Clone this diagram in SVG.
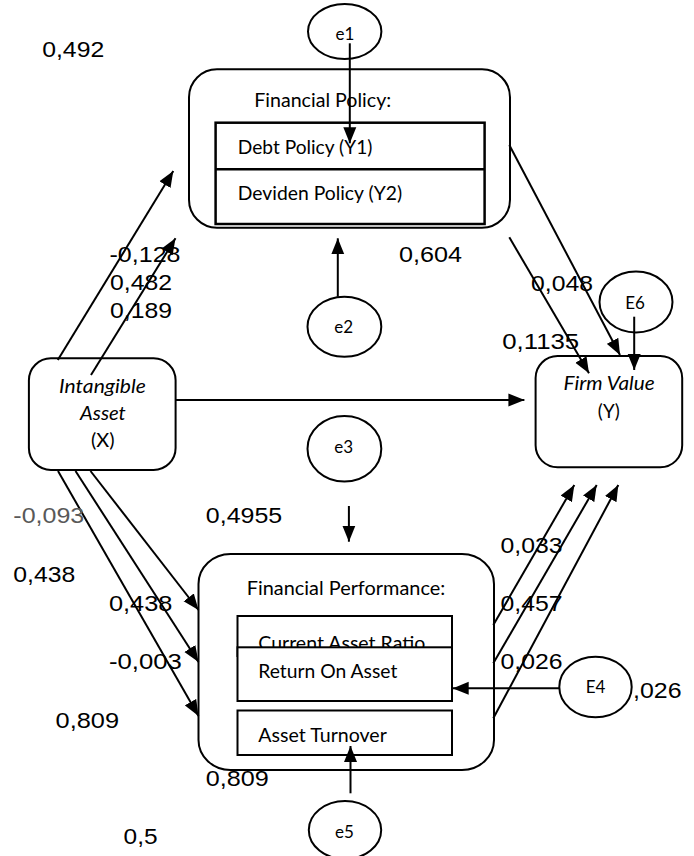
<svg xmlns="http://www.w3.org/2000/svg" width="694" height="856" viewBox="0 0 694 856">
<defs>
<marker id="ah" markerUnits="userSpaceOnUse" markerWidth="16" markerHeight="14" refX="16" refY="7" orient="auto">
<path d="M0,0.5 L16,7 L0,13.5 z" fill="#000"/>
</marker>
<style>
.box{fill:#fff;stroke:#000;stroke-width:2}
.inner{fill:#fff;stroke:#000;stroke-width:2}
.err{fill:#fff;stroke:#000;stroke-width:2}
.c{fill:none;stroke:#000;stroke-width:2;marker-end:url(#ah)}
.t{font-family:Lato,'Open Sans','Noto Sans',sans-serif;font-size:18.5px;fill:#000}
.ti{font-family:Lato,'Open Sans','Noto Sans',sans-serif;font-size:18.5px;font-style:italic;fill:#000}
.te{font-family:Lato,'Open Sans','Noto Sans',sans-serif;font-size:17px;fill:#000;text-anchor:middle}
.n{font-family:'Liberation Sans',Arial,sans-serif;font-size:21.8px;fill:#000}
</style>
</defs>
<rect x="0" y="0" width="694" height="856" fill="#fff"/>

<g id="financial-policy">
<rect class="box" x="189" y="69.3" width="321" height="158.4" rx="28" ry="28"/>
<text class="t" x="254.2" y="107" textLength="137" lengthAdjust="spacingAndGlyphs">Financial Policy:</text>
<rect class="inner" x="215.6" y="122.7" width="269" height="101.3" style="stroke-width:2.5"/>
<line x1="215.6" y1="169.3" x2="484.6" y2="169.3" stroke="#000" stroke-width="2.5"/>
<text class="t" x="237.8" y="154.3" textLength="134.6" lengthAdjust="spacingAndGlyphs">Debt Policy (Y1)</text>
<text class="t" x="237.8" y="200" textLength="164.4" lengthAdjust="spacingAndGlyphs">Deviden Policy (Y2)</text>
</g>

<g id="intangible-asset">
<rect class="box" x="28.9" y="358.3" width="146.7" height="111.7" rx="22" ry="22"/>
<text class="ti" x="59.1" y="392.7" textLength="86.7" lengthAdjust="spacingAndGlyphs">Intangible</text>
<text class="ti" x="80" y="420" textLength="45.8" lengthAdjust="spacingAndGlyphs">Asset</text>
<text class="t" x="91" y="446.7" textLength="23.6" lengthAdjust="spacingAndGlyphs">(X)</text>
</g>

<g id="firm-value">
<rect class="box" x="535.6" y="356" width="146.6" height="111.3" rx="22" ry="22"/>
<text class="ti" x="563.6" y="390" textLength="91" lengthAdjust="spacingAndGlyphs">Firm Value</text>
<text class="t" x="597.8" y="418.3" textLength="22" lengthAdjust="spacingAndGlyphs">(Y)</text>
</g>

<g id="financial-performance">
<rect class="box" x="198.5" y="554" width="295.5" height="216" rx="32" ry="30"/>
<text class="t" x="246.7" y="595" textLength="198.5" lengthAdjust="spacingAndGlyphs">Financial Performance:</text>
<rect class="inner" x="237.5" y="616" width="214.5" height="40"/>
<text class="t" x="258.3" y="650" textLength="167" lengthAdjust="spacingAndGlyphs">Current Asset Ratio</text>
<rect class="inner" x="237.5" y="647.3" width="214.5" height="53.7"/>
<text class="t" x="258.3" y="678.3" textLength="139" lengthAdjust="spacingAndGlyphs">Return On Asset</text>
<rect class="inner" x="237.5" y="710.5" width="214.5" height="44.5"/>
<text class="t" x="258.3" y="741.7" textLength="128.5" lengthAdjust="spacingAndGlyphs">Asset Turnover</text>
</g>

<g id="e1">
<ellipse class="err" cx="344.7" cy="31.5" rx="36.7" ry="27.5"/>
<text class="te" x="345" y="40">e1</text>
</g>
<g id="e2">
<ellipse class="err" cx="344.4" cy="326.7" rx="36.9" ry="30"/>
<text class="te" x="343.6" y="333.3">e2</text>
</g>
<g id="e3">
<ellipse class="err" cx="344.4" cy="448.8" rx="36.9" ry="32.8"/>
<text class="te" x="343.6" y="453.3">e3</text>
</g>
<g id="E4">
<ellipse class="err" cx="595.5" cy="687" rx="36.2" ry="30.3"/>
<text class="te" x="595.5" y="693.3">E4</text>
</g>
<g id="e5">
<ellipse class="err" cx="345" cy="830" rx="36.2" ry="29"/>
<text class="te" x="344.4" y="838.3">e5</text>
</g>
<g id="E6">
<ellipse class="err" cx="636" cy="302" rx="36.5" ry="30.5"/>
<text class="te" x="635" y="309.3">E6</text>
</g>

<g id="connectors">
<line class="c" x1="57.8" y1="360" x2="173.3" y2="171"/>
<line class="c" x1="91" y1="375" x2="175.5" y2="238.3"/>
<line class="c" x1="175.6" y1="400" x2="524.4" y2="400"/>
<line class="c" x1="509.3" y1="145" x2="620" y2="355"/>
<line class="c" x1="509.3" y1="237.3" x2="589" y2="373.3"/>
<line class="c" x1="634.2" y1="316.7" x2="634.2" y2="370"/>
<line class="c" x1="349.8" y1="43.3" x2="349.8" y2="143.3"/>
<line class="c" x1="337.8" y1="296.7" x2="337.8" y2="238.3"/>
<line class="c" x1="348.9" y1="506" x2="348.9" y2="541.7"/>
<line class="c" x1="90.5" y1="471" x2="198.5" y2="610"/>
<line class="c" x1="75.5" y1="471" x2="198.5" y2="662"/>
<line class="c" x1="58" y1="471" x2="198.5" y2="716"/>
<line class="c" x1="493.3" y1="625" x2="574.3" y2="485"/>
<line class="c" x1="493.3" y1="663.3" x2="596.7" y2="485"/>
<line class="c" x1="493.3" y1="718.3" x2="618.3" y2="485"/>
<line class="c" x1="559.3" y1="688.3" x2="452.7" y2="688.3"/>
<line class="c" x1="350.5" y1="793.3" x2="350.5" y2="746"/>
</g>

<g id="coefficients">
<text class="n" x="42.2" y="57.3" textLength="62" lengthAdjust="spacingAndGlyphs">0,492</text>
<text class="n" x="109.5" y="262" textLength="71" lengthAdjust="spacingAndGlyphs">-0,128</text>
<text class="n" x="110" y="290" textLength="62" lengthAdjust="spacingAndGlyphs">0,482</text>
<text class="n" x="110" y="318.3" textLength="62" lengthAdjust="spacingAndGlyphs">0,189</text>
<text class="n" x="399" y="261.7" textLength="63" lengthAdjust="spacingAndGlyphs">0,604</text>
<text class="n" x="531" y="290.7" textLength="62" lengthAdjust="spacingAndGlyphs">0,048</text>
<text class="n" x="502.2" y="349.3" textLength="77" lengthAdjust="spacingAndGlyphs">0,1135</text>
<text class="n" x="13.3" y="523.3" textLength="71" lengthAdjust="spacingAndGlyphs" style="fill:#595959">-0,093</text>
<text class="n" x="205.8" y="523.3" textLength="76.4" lengthAdjust="spacingAndGlyphs">0,4955</text>
<text class="n" x="13.3" y="581.7" textLength="62" lengthAdjust="spacingAndGlyphs">0,438</text>
<text class="n" x="108.9" y="610.7" textLength="63.5" lengthAdjust="spacingAndGlyphs">0,438</text>
<text class="n" x="108.9" y="669" textLength="73" lengthAdjust="spacingAndGlyphs">-0,003</text>
<text class="n" x="55.6" y="728.3" textLength="63.5" lengthAdjust="spacingAndGlyphs">0,809</text>
<text class="n" x="205.8" y="786" textLength="63" lengthAdjust="spacingAndGlyphs">0,809</text>
<text class="n" x="123.6" y="844.3" textLength="34" lengthAdjust="spacingAndGlyphs">0,5</text>
<text class="n" x="500.5" y="553.3" textLength="62" lengthAdjust="spacingAndGlyphs">0,033</text>
<text class="n" x="500.5" y="611" textLength="62" lengthAdjust="spacingAndGlyphs">0,457</text>
<text class="n" x="500.5" y="669.2" textLength="62" lengthAdjust="spacingAndGlyphs">0,026</text>
<text class="n" x="633" y="698.3" textLength="48.5" lengthAdjust="spacingAndGlyphs">,026</text>
</g>
</svg>
